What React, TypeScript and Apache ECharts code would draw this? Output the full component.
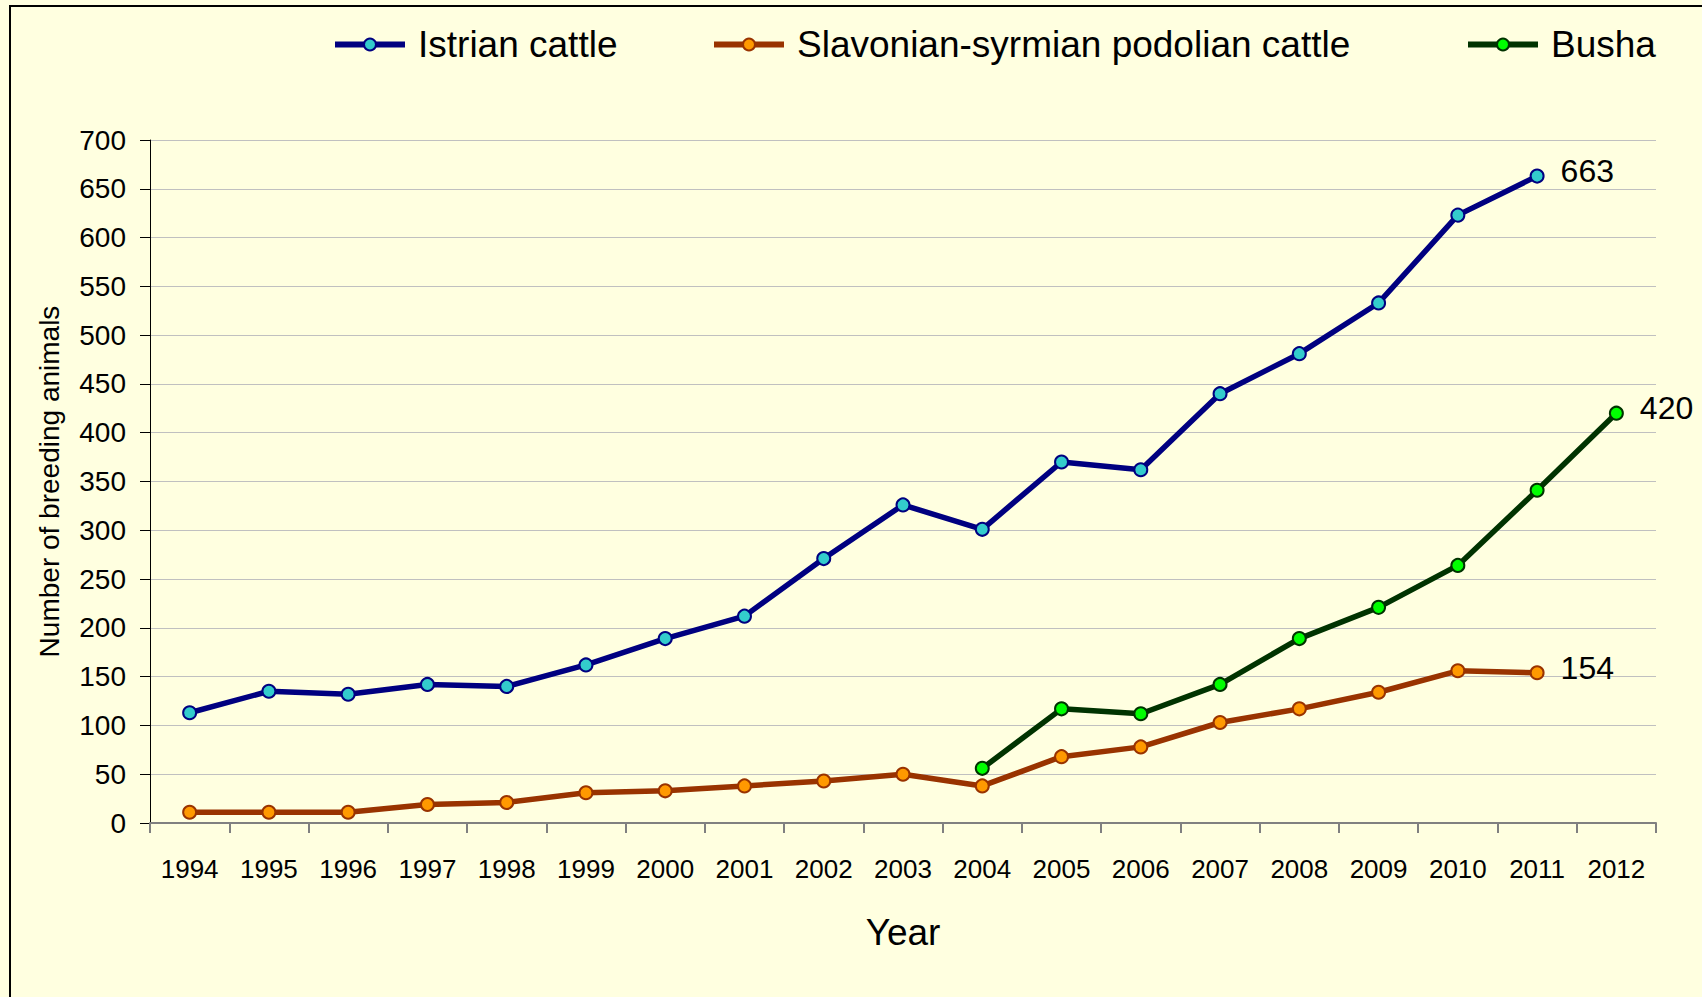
import React, { useEffect, useRef } from "react";
import * as echarts from "echarts";

const years = ["1994", "1995", "1996", "1997", "1998", "1999", "2000", "2001", "2002", "2003", "2004", "2005", "2006", "2007", "2008", "2009", "2010", "2011", "2012"];
const istrian: (number | null)[] = [113, 135, 132, 142, 140, 162, 189, 212, 271, 326, 301, 370, 362, 440, 481, 533, 623, 663, null];
const slavonian: (number | null)[] = [11, 11, 11, 19, 21, 31, 33, 38, 43, 50, 38, 68, 78, 103, 117, 134, 156, 154, null];
const busha: (number | null)[] = [null, null, null, null, null, null, null, null, null, null, 56, 117, 112, 142, 189, 221, 264, 341, 420];

const seriesNames = ["Istrian cattle", "Slavonian-syrmian podolian cattle", "Busha"];
const lineColors = ["#000080", "#993300", "#003300"];
const markerColors = ["#33CCCC", "#FF9900", "#00FF00"];

const FONT = "'Liberation Sans', Arial, sans-serif";

function withEndLabel(values: (number | null)[]) {
  let last = -1;
  values.forEach((v, i) => {
    if (v !== null) last = i;
  });
  return values.map((v, i) => {
    if (v === null) return "-";
    if (i === last) {
      return {
        value: v,
        label: {
          show: true,
          position: "right",
          distance: 16,
          offset: [0, -5],
          fontSize: 32,
          color: "#000",
          fontFamily: FONT,
        },
      };
    }
    return v;
  });
}

export default function App() {
  const ref = useRef<HTMLDivElement>(null);
  useEffect(() => {
    if (!ref.current) return;
    const chart = echarts.init(ref.current, undefined, { renderer: "svg" });
    const allData = [istrian, slavonian, busha];
    const legendLefts = [332, 711, 1465];
    chart.setOption({
      animation: false,
      backgroundColor: "#FFFFE0",
      textStyle: { fontFamily: FONT },
      graphic: [
        {
          type: "rect",
          shape: { x: 10, y: 6, width: 1720, height: 1020 },
          style: { fill: "none", stroke: "#000", lineWidth: 2 },
          silent: true,
        },
      ],
      legend: seriesNames.map((n, i) => ({
        data: [n],
        left: legendLefts[i],
        top: 26,
        padding: 0,
        itemWidth: 70,
        itemHeight: 15,
        lineStyle: { width: 6 },
        itemStyle: { borderWidth: 2 },
        textStyle: {
          fontSize: 37,
          lineHeight: 37,
          color: "#000",
          fontFamily: FONT,
          padding: [0, 0, 0, 8],
        },
      })),
      grid: { left: 150, right: 46, top: 140, bottom: 174, containLabel: false },
      xAxis: {
        type: "category",
        data: years,
        boundaryGap: true,
        name: "Year",
        nameLocation: "middle",
        nameGap: 91,
        nameTextStyle: { fontSize: 37, color: "#000", fontFamily: FONT },
        axisLine: { show: true, lineStyle: { color: "#808080", width: 2 } },
        axisTick: { show: true, length: 10, lineStyle: { color: "#808080", width: 2 } },
        axisLabel: { interval: 0, fontSize: 26, margin: 33, color: "#000", fontFamily: FONT },
        splitLine: { show: false },
      },
      yAxis: {
        type: "value",
        min: 0,
        max: 700,
        interval: 50,
        name: "Number of breeding animals",
        nameLocation: "middle",
        nameRotate: 90,
        nameGap: 87,
        nameTextStyle: { fontSize: 28, color: "#000", fontFamily: FONT },
        axisLine: { show: true, lineStyle: { color: "#000", width: 1 } },
        axisTick: { show: true, length: 10, lineStyle: { color: "#000", width: 1 } },
        axisLabel: { fontSize: 28, margin: 24, color: "#000", fontFamily: FONT },
        splitLine: { show: true, lineStyle: { color: "#C0C0C0", width: 1 } },
      },
      series: seriesNames.map((n, i) => ({
        name: n,
        type: "line",
        data: withEndLabel(allData[i]),
        connectNulls: false,
        symbol: "circle",
        symbolSize: 13,
        showAllSymbol: true,
        lineStyle: { color: lineColors[i], width: 5.5 },
        itemStyle: { color: markerColors[i], borderColor: lineColors[i], borderWidth: 2 },
        emphasis: { disabled: true },
        z: 3 - i,
      })),
    });
    return () => chart.dispose();
  }, []);
  return (
    <div style={{ position: "fixed", left: 0, top: 0, width: 1702, height: 997, background: "#FFFFE0" }}>
      <div ref={ref} style={{ width: 1702, height: 997 }} />
    </div>
  );
}
